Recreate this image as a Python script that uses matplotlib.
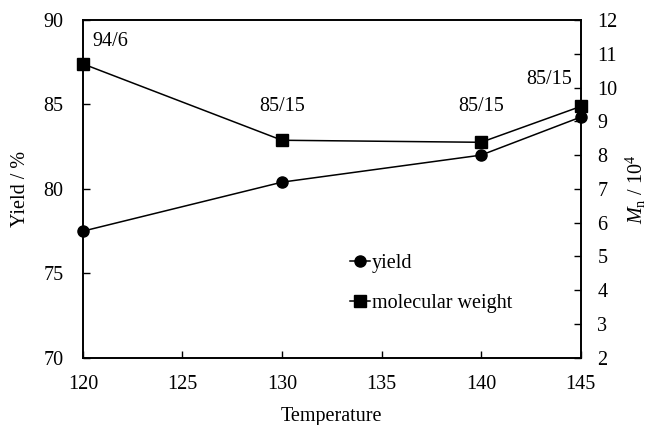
import matplotlib
matplotlib.use("Agg")
import matplotlib.pyplot as plt

plt.rcParams['font.family'] = ['Liberation Serif', 'DejaVu Serif']
plt.rcParams['mathtext.fontset'] = 'custom'
plt.rcParams['mathtext.rm'] = 'Liberation Serif'
plt.rcParams['mathtext.it'] = 'Liberation Serif:italic'

# data
temperature = [120, 130, 140, 145]
yield_pct = [77.5, 80.4, 82.0, 84.25]
mol_weight = [10.7, 8.44, 8.38, 9.44]
ratio_labels = ['94/6', '85/15', '85/15', '85/15']
label_pos = [(120.45, 11.35), (130, 9.43), (140, 9.43), (143.4, 10.25)]

fs = 14.5

fig = plt.figure(figsize=(6.48, 4.25), dpi=100)
ax = fig.add_axes([0.128, 0.158, 0.768, 0.795])
ax2 = ax.twinx()

l1, = ax.plot(temperature, yield_pct, color='black', lw=1.1, marker='o',
              markersize=8, label='yield', clip_on=False, zorder=3)
l2, = ax2.plot(temperature, mol_weight, color='black', lw=1.1, marker='s',
               markersize=8, label='molecular weight', clip_on=False, zorder=3)

ax.set_xlim(120, 145)
ax.set_ylim(70, 90)
ax2.set_ylim(2, 12)
ax.set_xticks([120, 125, 130, 135, 140, 145])
ax.set_yticks([70, 75, 80, 85, 90])
ax2.set_yticks(range(2, 13))

for a in (ax, ax2):
    a.tick_params(direction='in', length=5, width=1, labelsize=fs, colors='black')
    for s in a.spines.values():
        s.set_linewidth(1.2)
ax.tick_params(axis='x', pad=12)
ax.tick_params(axis='y', pad=14)
ax2.tick_params(axis='y', pad=12)

ax.set_xlabel('Temperature', fontsize=fs, va='center')
ax.set_ylabel('Yield / %', fontsize=fs, va='center')
ax2.set_ylabel(r'$M_\mathrm{n}$ / 10$^4$', fontsize=fs, va='center')
ax.xaxis.set_label_coords(0.5, -0.174)
ax.yaxis.set_label_coords(-0.125, 0.5)
ax2.yaxis.set_label_coords(1.112, 0.5)

for (x, y), txt in zip(label_pos, ratio_labels):
    ax2.text(x, y, txt, fontsize=fs, ha='left' if txt == '94/6' else 'center',
             va='center')

ax2.legend(handles=[l1, l2], loc='center left', bbox_to_anchor=(0.52, 0.22),
           frameon=False, fontsize=fs, handlelength=1.0, handletextpad=0.1,
           labelspacing=1.0, borderaxespad=0)

fig.savefig('out.png', dpi=100)
